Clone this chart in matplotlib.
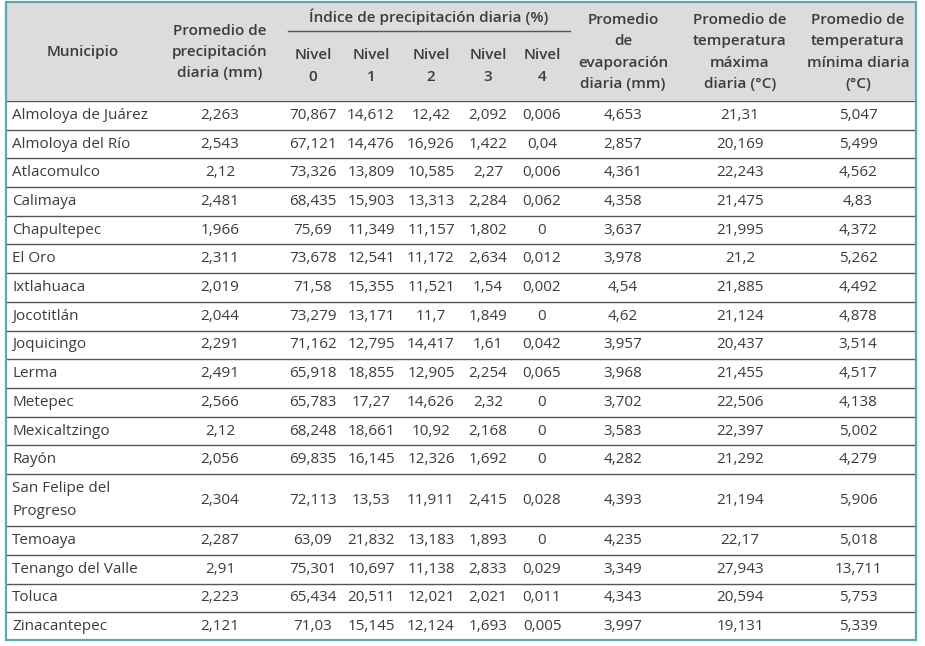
import matplotlib
matplotlib.use("Agg")
import matplotlib.pyplot as plt
from matplotlib.patches import Rectangle

plt.rcParams['font.family'] = ['Open Sans', 'DejaVu Sans']

municipios = ["Almoloya de Juárez", "Almoloya del Río", "Atlacomulco", "Calimaya",
              "Chapultepec", "El Oro", "Ixtlahuaca", "Jocotitlán", "Joquicingo", "Lerma",
              "Metepec", "Mexicaltzingo", "Rayón", "San Felipe del\nProgreso", "Temoaya",
              "Tenango del Valle", "Toluca", "Zinacantepec"]
precip = [2.263, 2.543, 2.12, 2.481, 1.966, 2.311, 2.019, 2.044, 2.291, 2.491,
          2.566, 2.12, 2.056, 2.304, 2.287, 2.91, 2.223, 2.121]
nivel0 = [70.867, 67.121, 73.326, 68.435, 75.69, 73.678, 71.58, 73.279, 71.162, 65.918,
          65.783, 68.248, 69.835, 72.113, 63.09, 75.301, 65.434, 71.03]
nivel1 = [14.612, 14.476, 13.809, 15.903, 11.349, 12.541, 15.355, 13.171, 12.795, 18.855,
          17.27, 18.661, 16.145, 13.53, 21.832, 10.697, 20.511, 15.145]
nivel2 = [12.42, 16.926, 10.585, 13.313, 11.157, 11.172, 11.521, 11.7, 14.417, 12.905,
          14.626, 10.92, 12.326, 11.911, 13.183, 11.138, 12.021, 12.124]
nivel3 = [2.092, 1.422, 2.27, 2.284, 1.802, 2.634, 1.54, 1.849, 1.61, 2.254,
          2.32, 2.168, 1.692, 2.415, 1.893, 2.833, 2.021, 1.693]
nivel4 = [0.006, 0.04, 0.006, 0.062, 0, 0.012, 0.002, 0, 0.042, 0.065,
          0, 0, 0, 0.028, 0, 0.029, 0.011, 0.005]
evap = [4.653, 2.857, 4.361, 4.358, 3.637, 3.978, 4.54, 4.62, 3.957, 3.968,
        3.702, 3.583, 4.282, 4.393, 4.235, 3.349, 4.343, 3.997]
tmax = [21.31, 20.169, 22.243, 21.475, 21.995, 21.2, 21.885, 21.124, 20.437, 21.455,
        22.506, 22.397, 21.292, 21.194, 22.17, 27.943, 20.594, 19.131]
tmin = [5.047, 5.499, 4.562, 4.83, 4.372, 5.262, 4.492, 4.878, 3.514, 4.517,
        4.138, 5.002, 4.279, 5.906, 5.018, 13.711, 5.753, 5.339]

headers = ["Municipio", "Promedio de\nprecipitación\ndiaria (mm)",
           "Nivel\n0", "Nivel\n1", "Nivel\n2", "Nivel\n3", "Nivel\n4",
           "Promedio\nde\nevaporación\ndiaria (mm)",
           "Promedio de\ntemperatura\nmáxima\ndiaria (°C)",
           "Promedio de\ntemperatura\nmínima diaria\n(°C)"]
group_header = "Índice de precipitación diaria (%)"

def fmt(v):
    return f"{v:g}".replace(".", ",")

W, H = 925, 646
fig = plt.figure(figsize=(W / 100, H / 100), dpi=100)
ax = fig.add_axes([0, 0, 1, 1])
ax.set_xlim(0, W)
ax.set_ylim(H, 0)
ax.axis("off")

txt = "#3c3c3c"
fs = 11.0
hfs = 11.0
ls = 1.66
left, right, top, bottom = 6, 916, 2, 640
head_bottom = 100
col_x = [12, 220, 313, 371, 431, 488, 542, 623, 740, 858]

# header background
ax.add_patch(Rectangle((left, top), right - left, head_bottom - top,
                       facecolor="#dcdcdc", edgecolor="none", zorder=0))

# rows
heights = [52 if "\n" in m else 28.7 for m in municipios]
y = head_bottom + 1
bounds = [y]
for h in heights:
    y += h
    bounds.append(y)

for b in bounds[:-1]:
    ax.plot([left, right], [b, b], color="#555555", lw=1.0, zorder=2)

cols = [precip, nivel0, nivel1, nivel2, nivel3, nivel4, evap, tmax, tmin]
for i, m in enumerate(municipios):
    yc = (bounds[i] + bounds[i + 1]) / 2
    ax.text(col_x[0], yc, m, ha="left", va="center", fontsize=fs, color=txt,
            linespacing=ls)
    for j, c in enumerate(cols):
        ax.text(col_x[j + 1], yc, fmt(c[i]), ha="center", va="center",
                fontsize=fs, color=txt)

# headers
ax.text(col_x[0] + 71, 52, headers[0], ha="center", va="center", fontsize=hfs,
        color=txt, fontweight="semibold")
ax.text(col_x[1], 52, headers[1], ha="center", va="center", fontsize=hfs,
        color=txt, fontweight="semibold", linespacing=ls)
for j in range(2, 7):
    ax.text(col_x[j], 66, headers[j], ha="center", va="center", fontsize=hfs,
            color=txt, fontweight="semibold", linespacing=ls)
for j in range(7, 10):
    ax.text(col_x[j], 52, headers[j], ha="center", va="center", fontsize=hfs,
            color=txt, fontweight="semibold", linespacing=ls)
ax.text(429, 17, group_header, ha="center", va="center", fontsize=hfs,
        color=txt, fontweight="semibold")
ax.plot([288, 570], [31, 31], color="#555555", lw=1.0)

# outer border
ax.add_patch(Rectangle((left, top), right - left, bottom - top, facecolor="none",
                       edgecolor="#5aa9ad", lw=1.6, zorder=5))

fig.savefig("out.png", dpi=100)
